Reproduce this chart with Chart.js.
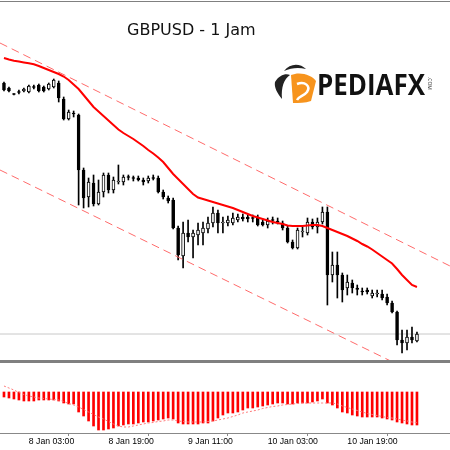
<!DOCTYPE html>
<html>
<head>
<meta charset="utf-8">
<script src="https://cdn.jsdelivr.net/npm/chart.js@4.4.1/dist/chart.umd.min.js"></script>
<style>
  body { margin: 0; background: #fff; }
  #wrap { position: relative; width: 450px; height: 450px; overflow: hidden; background: #fff; }
  #main { position: absolute; left: 0; top: 0; }
  #macd { position: absolute; left: 0; top: 363px; }
  .rule { position: absolute; left: 0; width: 450px; background: #808080; }
  #title { position: absolute; left: 127px; top: 20px; font: 16px "DejaVu Sans", sans-serif; color: #111; white-space: nowrap; }
  #logo { position: absolute; left: 260px; top: 55px; }
</style>
</head>
<body>
<div id="wrap">
  <canvas id="main" width="450" height="360"></canvas>
  <div class="rule" style="top:1px;height:1px;"></div>
  <div class="rule" style="top:360px;height:3px;"></div>
  <canvas id="macd" width="450" height="87"></canvas>
  <div id="title">GBPUSD - 1 Jam</div>
  <svg id="logo" width="190" height="60" viewBox="0 0 190 60">
    <path d="M31,20 C40,16 52,20 56,26 L51,46 C45,48 39,48 33,48 Z" fill="#f7941d"/>
    <path d="M37,29 C45,26 51,31 47,37 C44,41 39,41 37,45" stroke="#fff" stroke-width="2.5" fill="none"/>
    <path d="M24,16 C30,8 40,8 46,14 C38,12 31,13 24,16 Z" fill="#222"/>
    <path d="M15,27 C19,20 26,18 30,20 C24,24 21,32 22,44 C17,38 14,32 15,27 Z" fill="#222"/>
    <text x="57" y="40" font-family="Open Sans" font-weight="bold" font-size="28" fill="#111" textLength="108" lengthAdjust="spacingAndGlyphs">PEDIAFX</text>
    <text transform="translate(168,22) rotate(90)" font-family="Open Sans" font-size="5" fill="#333">.COM</text>
  </svg>
</div>
<script>
// GBPUSD H1 candles, one per hour starting 7 Jan 22:00
const priceOpen = [1.2477,1.2472,1.2466,1.24675,1.2469,1.2468,1.24725,1.2475,1.2473,1.2471,1.2473,1.2477,1.2461,1.2441,1.2447,1.2445,1.2390,1.2363,1.2377,1.2356,1.2368,1.2385,1.2370,1.2378,1.2378,1.2383,1.2382,1.2382,1.2380,1.2379,1.2382,1.2382,1.2368,1.2362,1.2360,1.2332,1.2304,1.2327,1.2323,1.2325,1.2327,1.2331,1.2337,1.2347,1.2337,1.2337,1.2337,1.2340,1.2343,1.2343,1.2342,1.2343,1.2338,1.2335,1.2340,1.2339,1.2337,1.2332,1.2318,1.2312,1.2328,1.2327,1.2338,1.2333,1.2338,1.2348,1.2285,1.2295,1.2285,1.2272,1.2277,1.2272,1.2269,1.2270,1.2264,1.2266,1.2266,1.2263,1.2257,1.2248,1.2220,1.2217,1.2223,1.2219];
const priceHigh = [1.2478,1.2473,1.24665,1.2470,1.2472,1.2475,1.2475,1.2476,1.2474,1.2477,1.2481,1.2479,1.2463,1.2450,1.2449,1.2446,1.2392,1.2382,1.2385,1.2380,1.2387,1.2387,1.2383,1.2395,1.2385,1.2385,1.2384,1.2384,1.2382,1.2384,1.2385,1.2384,1.2370,1.2364,1.2362,1.2334,1.2338,1.2340,1.2330,1.2337,1.2338,1.2343,1.2353,1.2350,1.2343,1.2344,1.2347,1.2346,1.2346,1.2345,1.2345,1.2345,1.2340,1.2342,1.2343,1.2342,1.2339,1.2334,1.2320,1.2332,1.2333,1.2342,1.2341,1.2342,1.2353,1.2353,1.2308,1.2308,1.2287,1.2285,1.2280,1.2275,1.2272,1.2272,1.2270,1.2270,1.2270,1.2266,1.2259,1.2249,1.2230,1.2230,1.2233,1.2228];
const priceLow = [1.2469,1.2468,1.2465,1.2466,1.2468,1.2467,1.2471,1.2468,1.2468,1.2470,1.2472,1.2458,1.2440,1.2440,1.2443,1.2355,1.2352,1.2353,1.2354,1.2355,1.2363,1.2367,1.2367,1.2376,1.2375,1.2380,1.2379,1.2379,1.2375,1.2377,1.2380,1.2367,1.2361,1.2357,1.2331,1.2300,1.2292,1.2318,1.2302,1.2315,1.2315,1.2327,1.2333,1.2327,1.2327,1.2334,1.2335,1.2338,1.2339,1.2338,1.2338,1.2334,1.2334,1.2332,1.2336,1.2336,1.2330,1.2317,1.2311,1.2311,1.2323,1.2325,1.2331,1.2327,1.2336,1.2255,1.2278,1.2262,1.2258,1.2265,1.2267,1.2265,1.2265,1.2266,1.2262,1.2263,1.2260,1.2255,1.2247,1.2215,1.2207,1.2210,1.2217,1.2218];
const priceClose = [1.2470,1.2469,1.24655,1.2468,1.2471,1.2474,1.2473,1.2469,1.2469,1.2476,1.2480,1.2462,1.2441,1.2448,1.2446,1.2390,1.2362,1.2378,1.2356,1.2368,1.2385,1.2370,1.2380,1.2379,1.2383,1.23825,1.23815,1.2380,1.2378,1.2382,1.23815,1.2368,1.2363,1.2359,1.2332,1.2305,1.2327,1.2323,1.2327,1.2330,1.2332,1.2337,1.2347,1.2337,1.2338,1.2340,1.2342,1.2343,1.2341,1.2341,1.23415,1.2335,1.2335,1.2339,1.23395,1.2338,1.2332,1.2318,1.2312,1.2330,1.2329,1.2338,1.2333,1.2338,1.2348,1.2285,1.2295,1.2285,1.2270,1.2278,1.2272,1.22705,1.2268,1.2268,1.2267,1.2267,1.2262,1.2257,1.2248,1.2220,1.2217,1.2223,1.2220,1.2226];
const movingAvg = [1.2502,1.25005,1.24993,1.24984,1.24976,1.24967,1.24957,1.2494,1.2492,1.2490,1.2488,1.2486,1.24835,1.2480,1.24755,1.2471,1.2465,1.2459,1.2453,1.24485,1.2444,1.24395,1.2435,1.24305,1.2427,1.2424,1.2421,1.24175,1.2414,1.2410,1.24065,1.24025,1.2398,1.2392,1.2386,1.2381,1.2376,1.2371,1.2366,1.23625,1.2361,1.23595,1.2358,1.23565,1.2355,1.23535,1.2352,1.2350,1.2348,1.2346,1.2344,1.23425,1.2341,1.23395,1.2338,1.2337,1.2336,1.23345,1.2334,1.2334,1.2334,1.23345,1.2335,1.2335,1.2334,1.2332,1.2330,1.2328,1.2326,1.2324,1.23215,1.2319,1.2316,1.23135,1.23105,1.2307,1.23035,1.2300,1.22965,1.2291,1.2285,1.2280,1.2275,1.2273];
// MACD histogram and signal, in pips
const macdHist = [-2.5,-3,-3.5,-4,-4.5,-4.5,-4.5,-4,-4,-4,-4,-4.5,-5.5,-6,-6,-10,-12,-14.5,-17,-19,-19,-18.5,-18,-17,-16.5,-16,-16,-15.5,-15,-15,-14.5,-14,-13.5,-13,-13.5,-15.5,-16,-16,-16,-16,-15.5,-15.5,-14.5,-13,-11.5,-10.5,-10.5,-10,-9,-8,-8,-7.5,-7,-6.5,-6,-5.5,-5.5,-6,-6,-5.5,-5.5,-5.5,-5,-4.5,-3.5,-5.5,-6.5,-8,-10,-10.5,-11.5,-12,-12.5,-12.5,-12.5,-12.5,-13,-13.5,-14,-15,-15.5,-16,-16.5,-16.5];
const macdSignal = [3,2,1,-0.25,-1.25,-2,-2.5,-3,-3.25,-3.5,-3.75,-4,-4.75,-5.75,-6.5,-7.5,-8.75,-10,-11.25,-12.5,-13.5,-14.75,-16,-17,-17.5,-17.5,-17,-16.5,-16,-15.5,-15.25,-14.75,-14.5,-14,-14,-14.5,-14.75,-15,-15,-15,-15,-14.75,-14.5,-14,-13.5,-13,-12.25,-11.5,-10.5,-10,-9.5,-9,-8.25,-7.75,-7.25,-7,-6.5,-6.25,-6,-5.75,-5.5,-5.5,-5.5,-5.5,-5.5,-5.5,-5.5,-6,-7,-7.75,-8.5,-9.25,-10,-10.75,-11.25,-11.75,-12.25,-12.75,-13,-13.5,-14,-14.5,-15,-15.25];
// channel lines: price at left edge and right edge
const channelUpper = [1.2517, 1.2294];
const channelLower = [1.2390, 1.2170];
const tickPos = [5, 21, 37, 53, 69];
const tickLabels = ['8 Jan 03:00', '8 Jan 19:00', '9 Jan 11:00', '10 Jan 03:00', '10 Jan 19:00'];

const xMin = -0.8, xMax = 89.64;
const idx = priceOpen.map((_, i) => i);
const lastClose = priceClose[priceClose.length - 1];

const bodyColor = (i) => {
  if (Math.abs(priceClose[i] - priceOpen[i]) < 0.00008) return '#000';
  return priceClose[i] > priceOpen[i] ? '#fff' : '#000';
};

new Chart(document.getElementById('main'), {
  type: 'bar',
  data: {
    datasets: [
      {
        type: 'line',
        data: [{ x: xMin, y: lastClose }, { x: xMax, y: lastClose }],
        borderColor: '#c8c8c8', borderWidth: 1, pointRadius: 0, order: 5
      },
      {
        data: idx.map(i => ({ x: i, y: [priceLow[i], priceHigh[i]] })),
        backgroundColor: '#000', barThickness: 1, grouped: false, order: 3
      },
      {
        data: idx.map(i => ({ x: i, y: [priceOpen[i], priceClose[i]] })),
        backgroundColor: ctx => bodyColor(ctx.dataIndex),
        borderColor: '#000', borderWidth: 1, borderSkipped: false,
        barThickness: 3, minBarLength: 1, grouped: false, order: 2
      },
      {
        type: 'line',
        data: idx.map(i => ({ x: i, y: movingAvg[i] })),
        borderColor: '#ff0000', borderWidth: 2, pointRadius: 0, tension: 0, order: 0
      },
      {
        type: 'line',
        data: [{ x: xMin, y: channelUpper[0] }, { x: xMax, y: channelUpper[1] }],
        borderColor: '#ff6b6b', borderWidth: 1, borderDash: [8, 5], pointRadius: 0, order: 1
      },
      {
        type: 'line',
        data: [{ x: xMin, y: channelLower[0] }, { x: xMax, y: channelLower[1] }],
        borderColor: '#ff6b6b', borderWidth: 1, borderDash: [8, 5], pointRadius: 0, order: 1
      }
    ]
  },
  options: {
    responsive: false,
    animation: false,
    layout: { padding: 0 },
    plugins: { legend: { display: false }, tooltip: { enabled: false } },
    scales: {
      x: { type: 'linear', min: xMin, max: xMax, offset: false, display: false },
      y: { min: 1.2200, max: 1.2560, display: false }
    }
  }
});

new Chart(document.getElementById('macd'), {
  type: 'bar',
  data: {
    datasets: [
      {
        data: idx.map(i => ({ x: i, y: macdHist[i] })),
        backgroundColor: '#ff0000', barThickness: 2, grouped: false, order: 1
      },
      {
        type: 'line',
        data: idx.map(i => ({ x: i, y: macdSignal[i] })),
        borderColor: '#ff7a7a', borderWidth: 1, borderDash: [2, 2], pointRadius: 0, order: 0
      }
    ]
  },
  options: {
    responsive: false,
    animation: false,
    layout: { padding: { left: 0, right: 0, top: 0, bottom: 3.56 } },
    plugins: { legend: { display: false }, tooltip: { enabled: false } },
    scales: {
      x: {
        type: 'linear', min: xMin, max: xMax, offset: false,
        afterBuildTicks: scale => { scale.ticks = tickPos.map(v => ({ value: v })); },
        grid: { drawOnChartArea: false, drawTicks: true, tickLength: 3, color: '#888' },
        border: { display: true, color: '#888', width: 1 },
        ticks: {
          autoSkip: false, maxRotation: 0, padding: 0, align: 'start',
          color: '#000', font: { family: 'Liberation Sans', size: 8.7 },
          callback: v => tickLabels[tickPos.indexOf(v)]
        }
      },
      y: { min: -20.5, max: 14.5, display: false }
    }
  }
});
</script>
</body>
</html>
